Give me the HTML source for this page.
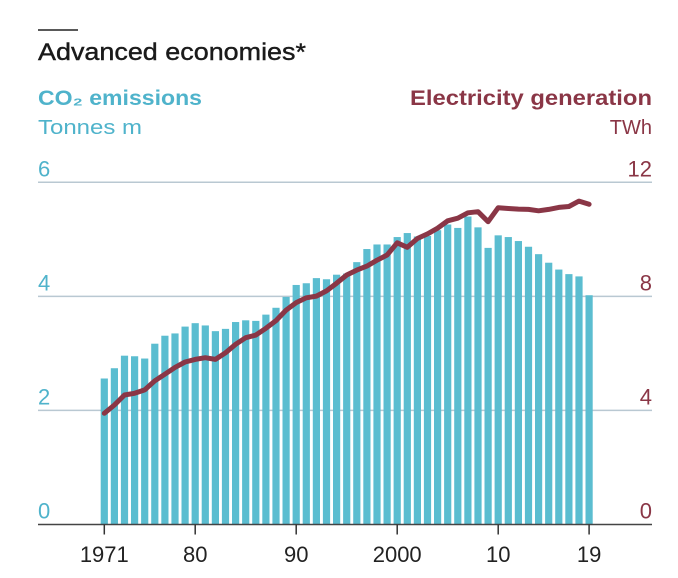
<!DOCTYPE html>
<html><head><meta charset="utf-8"><style>
html,body{margin:0;padding:0;background:#fff;}
svg{display:block;font-family:"Liberation Sans",sans-serif;}
</style></head><body>
<svg id="chart" width="678" height="578" viewBox="0 0 678 578">
<rect x="0" y="0" width="678" height="578" fill="#fff"/>
<line x1="38" y1="30" x2="78" y2="30" stroke="#222" stroke-width="1.5"/>
<text x="38" y="60" font-size="24" fill="#1a1a1a" stroke="#1a1a1a" stroke-width="0.4" textLength="268" lengthAdjust="spacingAndGlyphs">Advanced economies*</text>
<text x="38" y="105" font-size="21" font-weight="bold" fill="#4fb3cb" textLength="164" lengthAdjust="spacingAndGlyphs">CO₂ emissions</text>
<text x="38" y="134" font-size="20" fill="#4fb3cb" textLength="104" lengthAdjust="spacingAndGlyphs">Tonnes m</text>
<text x="652" y="105" font-size="21" font-weight="bold" fill="#8a3646" text-anchor="end" textLength="242" lengthAdjust="spacingAndGlyphs">Electricity generation</text>
<text x="652" y="134" font-size="20" fill="#8a3646" text-anchor="end">TWh</text>
<g id="grid"></g>
<g id="bars"></g>
<g id="line"></g>
<g id="xaxis"></g>
</svg>
<script>
const years = [];
for (let y = 1971; y <= 2019; y++) years.push(y);
const co2 = [2.56,2.74,2.96,2.95,2.91,3.17,3.31,3.35,3.47,3.53,3.49,3.39,3.43,3.55,3.58,3.57,3.68,3.80,3.99,4.20,4.23,4.32,4.30,4.38,4.40,4.60,4.83,4.91,4.91,5.04,5.11,5.05,5.06,5.16,5.26,5.20,5.40,5.21,4.85,5.07,5.04,4.97,4.87,4.74,4.59,4.47,4.39,4.35,4.02];
const elec = [3.90,4.19,4.54,4.60,4.72,5.04,5.27,5.51,5.70,5.79,5.85,5.79,6.02,6.32,6.55,6.64,6.88,7.15,7.52,7.78,7.95,8.01,8.19,8.46,8.75,8.92,9.06,9.27,9.45,9.88,9.72,10.03,10.19,10.39,10.65,10.74,10.93,10.97,10.62,11.11,11.08,11.06,11.05,11.00,11.05,11.12,11.15,11.34,11.23];
const leftTicks = [0,2,4,6];
const rightTicks = [0,4,8,12];
const xTickYears = [1971,1980,1990,2000,2010,2019];
const xTickLabels = ["1971","80","90","2000","10","19"];

const NS = "http://www.w3.org/2000/svg";
const y0 = 524.5, yTop = 182.3;
const yL = v => y0 - (v / 6) * (y0 - yTop);
const yR = v => y0 - (v / 12) * (y0 - yTop);
const xS = yr => 104.3 + (yr - 1971) * 10.1;
function mk(tag, attrs, parent) {
  const e = document.createElementNS(NS, tag);
  for (const k in attrs) e.setAttribute(k, attrs[k]);
  parent.appendChild(e);
  return e;
}
const grid = document.getElementById('grid');
leftTicks.forEach((t, i) => {
  if (t !== 0) {
    const gl = mk('line', {x1: 38, x2: 652, y1: yL(t), y2: yL(t), stroke: '#b9c8d2', 'stroke-width': 1.5}, grid);
    
    
  }
  const lt = mk('text', {x: 38, y: yL(t) - 6, 'font-size': 22, fill: '#4fb3cb'}, grid);
  lt.textContent = t;
  
  
  const rt = mk('text', {x: 652, y: yR(rightTicks[i]) - 6, 'font-size': 22, fill: '#8a3646', 'text-anchor': 'end'}, grid);
  rt.textContent = rightTicks[i];
  
  
});
const bars = document.getElementById('bars');
years.forEach((yr, i) => {
  const b = mk('rect', {x: xS(yr) - 3.6, y: yL(co2[i]), width: 7.2, height: y0 - yL(co2[i]), fill: '#5bbdd0'}, bars);
  
  
});
const lg = document.getElementById('line');
const pts = years.map((yr, i) => xS(yr).toFixed(1) + ',' + yR(elec[i]).toFixed(1)).join(' ');
const pl = mk('polyline', {points: pts, fill: 'none', stroke: '#8a3646', 'stroke-width': 5, 'stroke-linejoin': 'round', 'stroke-linecap': 'round'}, lg);


const xa = document.getElementById('xaxis');
const base = mk('line', {x1: 38, x2: 652, y1: y0, y2: y0, stroke: '#444', 'stroke-width': 1.5}, xa);


xTickYears.forEach((yr, i) => {
  const tk = mk('line', {x1: xS(yr), x2: xS(yr), y1: y0, y2: y0 + 10, stroke: '#333', 'stroke-width': 1.5}, xa);
  
  
  const tl = mk('text', {x: xS(yr), y: 562, 'font-size': 22, fill: '#222', 'text-anchor': 'middle'}, xa);
  tl.textContent = xTickLabels[i];
  
  
});
</script>
</body></html>
